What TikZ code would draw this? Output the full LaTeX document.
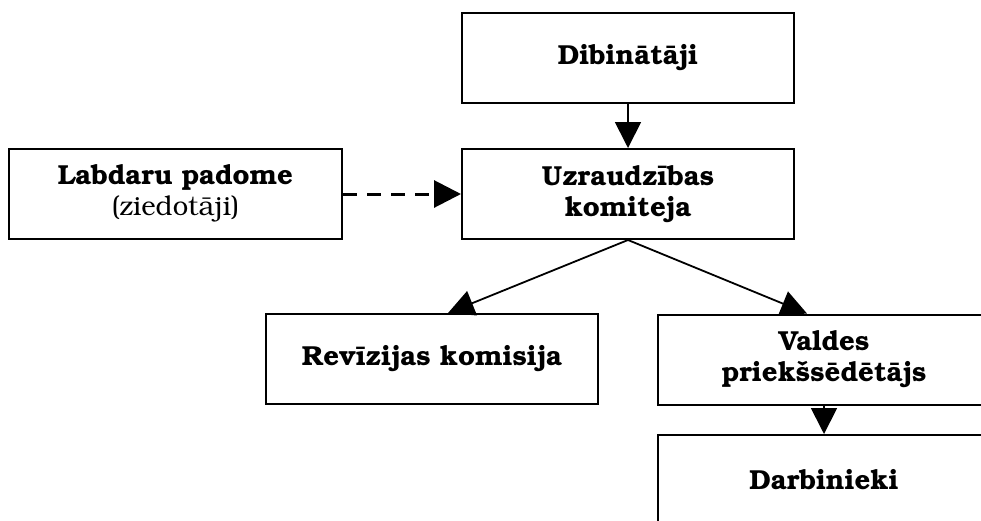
\documentclass[tikz,border=0pt]{standalone}
\usepackage[T1]{fontenc}
\usepackage{bookman}
\usetikzlibrary{arrows.meta}
\begin{document}
\begin{tikzpicture}[x=1pt,y=-1pt,
  box/.style={draw, line width=2pt, minimum width=332pt, minimum height=90pt, inner sep=0pt, align=center, font=\fontsize{27.5}{31}\selectfont\bfseries},
  conn/.style={line width=1.8pt, -{Triangle[width=26pt,length=26pt]}},
  dconn/.style={line width=3pt, dash pattern=on 14pt off 10pt, -{Triangle[width=27pt,length=27pt]}}]
\useasboundingbox (0,0) rectangle (981,520);
\clip (0,0) rectangle (981,520);
\node[box] (dib) at (628,58) {Dibin\=at\=aji};
\node[box] (uzr) at (628,194) {Uzraudz\={\i}bas\\komiteja};
\node[box, minimum width=333pt] (lab) at (175.5,194) {Labdaru padome\\{\mdseries (ziedot\=aji)}};
\node[box] (rev) at (432,359) {Rev\={\i}zijas komisija};
\node[box] (val) at (824,359.5) {Valdes\\priek\v{s}s\=ed\=et\=ajs};
\node[box] (dar) at (824,480) {Darbinieki};
\draw[conn] (dib) -- (uzr);
\draw[dconn] (lab) -- (uzr);
\draw[conn] (uzr.south) -- ([xshift=16pt]rev.north);
\draw[conn] (uzr.south) -- ([xshift=-17pt]val.north);
\draw[conn] (val) -- (dar);
\end{tikzpicture}
\end{document}
